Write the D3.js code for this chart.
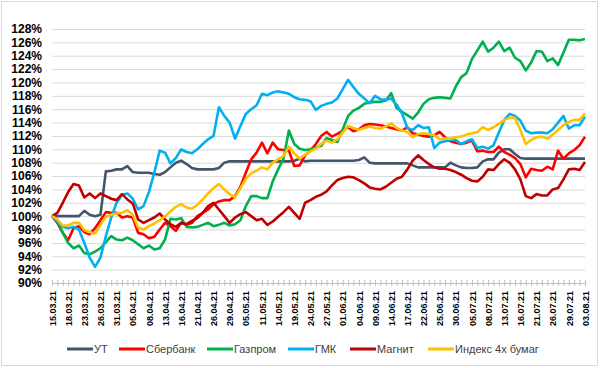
<!DOCTYPE html>
<html>
<head>
<meta charset="utf-8">
<script src="https://cdn.jsdelivr.net/npm/d3@7"></script>
<style>
  body { margin: 0; background: #fff; }
  .grid line { stroke: #d9d9d9; stroke-width: 1; }
  .grid path { display: none; }
  .y.axis text { font-family: "Liberation Sans", Arial, sans-serif; font-weight: bold; font-size: 12px; fill: #000; }
  .y.axis path, .y.axis line { display: none; }
  .x.axis text { font-family: "Liberation Sans", Arial, sans-serif; font-weight: bold; font-size: 9px; fill: #000; }
  .x.axis path { stroke: #bfbfbf; }
  .x.axis line { stroke: #bfbfbf; }
  .line { fill: none; stroke-width: 2.6; stroke-linejoin: round; }
  .legend text { font-family: "Liberation Sans", Arial, sans-serif; font-size: 11px; fill: #404040; }
</style>
</head>
<body>
<div id="chart"></div>
<script>

        // tick labels, one every 3 trading days
        var dateLabels = ["15.03.21", "18.03.21", "23.03.21", "26.03.21", "31.03.21", "05.04.21", "08.04.21",
            "13.04.21", "16.04.21", "21.04.21", "26.04.21", "29.04.21", "05.05.21", "11.05.21", "14.05.21",
            "19.05.21", "24.05.21", "27.05.21", "01.06.21", "04.06.21", "09.06.21", "14.06.21", "17.06.21",
            "22.06.21", "25.06.21", "30.06.21", "05.07.21", "08.07.21", "13.07.21", "16.07.21", "21.07.21",
            "26.07.21", "29.07.21", "03.08.21"];

        var seriesNames = ["УТ", "Сбербанк", "Газпром", "ГМК", "Магнит", "Индекс 4х бумаг"];

        var ut = [100, 100, 100, 100, 100, 100, 100.8, 100.2, 100, 100.2,
            106.7, 106.8, 107, 107, 107.5, 106.6, 106.5, 106.5, 106.5, 106.3,
            106.2, 106.6, 107.3, 108, 108.3, 107.8, 107.2, 107, 107, 107,
            107, 107.2, 108, 108.2, 108.2, 108.2, 108.2, 108.2, 108.2, 108.2,
            108.2, 108.2, 108.2, 108.2, 108.2, 108.3, 108.6, 108.2, 108.3, 108.3,
            108.3, 108.3, 108.3, 108.3, 108.3, 108.3, 108.3, 108.4, 108.8, 108,
            107.9, 107.9, 107.9, 107.9, 107.9, 107.9, 107.9, 107.6, 107.3, 107.3,
            107.3, 107.3, 107.3, 107.3, 108, 107.6, 107.3, 107.2, 107.2, 107.3,
            108.2, 108.5, 108.5, 109.5, 110, 110, 109.3, 108.7, 108.6, 108.6,
            108.6, 108.6, 108.6, 108.6, 108.6, 108.6, 108.6, 108.6, 108.6, 108.6];

        var sber = [100, 99, 97.5, 96.4, 98.2, 98.5, 97.6, 97.3, 98.2, 99.4,
            100.6, 100.5, 100.5, 99.8, 100, 99.8, 97.5, 97.3, 96.7, 96.9,
            98, 99, 98.5, 97.8, 99, 98.7, 99, 100, 100.5, 101,
            101.8, 102.2, 102.4, 102.4, 103, 104.4, 106.5, 108.5, 109.5, 111,
            109.4, 111, 110, 109.9, 109.8, 107.5, 107.6, 109.1, 109.8, 110.8,
            112, 112.6, 111.9, 112.3, 112.8, 113.3, 112.7, 113, 113.6, 113.8,
            113.7, 113.6, 113.4, 113.2, 113, 112.8, 113.3, 112.4, 112.2, 112,
            111.9, 112.1, 112.6, 111.8, 111.2, 111, 110.8, 111, 111.3, 109.7,
            109.8, 109.6, 109.6, 110.4, 109.6, 109.2, 108.7, 107.8, 105.8, 107.1,
            106.9, 106.8, 107.4, 107, 109.8, 108.6, 109.4, 109.9, 110.6, 111.9];

        var gazprom = [100, 99.3, 97.5, 96, 95.2, 95.6, 94.5, 94.3, 94.7, 95.2,
            96.1, 97, 96.5, 96.4, 96.8, 96.4, 95.8, 95.2, 95.6, 95,
            95.2, 96.5, 99.6, 99.5, 99.7, 98.4, 98.3, 98.4, 98.7, 99,
            98.5, 98.7, 99, 98.6, 98.8, 99.4, 101.5, 103, 103, 102.7,
            102.7, 105.2, 107, 108.6, 112.8, 110.8, 110.1, 109.9, 110, 110.3,
            110.5, 111.7, 111.4, 111.1, 113, 115, 115.8, 116.2, 116.8, 117,
            117.1, 117.1, 117.3, 118.4, 116.2, 115.6, 115.1, 114.6, 115.5, 116.8,
            117.5, 117.7, 117.8, 117.7, 117.6, 119.4, 120.8, 121.4, 123.5, 124.8,
            126.1, 124.6, 125.2, 126.1, 124.7, 125.2, 123.7, 123.2, 121.8, 123,
            124.7, 124.6, 123.2, 123.6, 122.6, 124.5, 126.4, 126.4, 126.3, 126.5];

        var gmk = [100, 99.2, 98.4, 98.2, 98.4, 98, 96, 93.8, 92.4, 93.8,
            97, 99.8, 102, 103.2, 103.4, 102.6, 101, 101.5, 103.6, 106.5,
            109.8, 109.5, 107.9, 108.7, 110, 109.6, 109.4, 110, 110.8, 111.5,
            112, 116.3, 115, 114, 111.6, 113.5, 115.3, 116, 116.6, 118.3,
            118.1, 118.5, 118.7, 118.5, 118.3, 117.8, 117.5, 117.4, 117.2, 115.9,
            116.5, 116.8, 117, 117.6, 119, 120.4, 119.3, 118.3, 117.6, 116.9,
            118, 117.5, 117.4, 117.6, 116.7, 115.4, 113.2, 112.9, 113.6, 113.2,
            113.3, 110.2, 111, 111.2, 111.4, 111.4, 110.8, 111.2, 111.5, 110.2,
            110.4, 110.1, 110.6, 112.5, 114.4, 115.3, 115, 114.3, 112.8, 112.4,
            112.5, 112.5, 112.4, 113, 114, 115, 113.1, 113.6, 113.6, 114.9];

        var magnit = [100, 100.5, 102, 103.6, 104.8, 104.6, 102.8, 103.4, 102.7, 103.4,
            103, 102.6, 102.4, 103.3, 102.5, 101.9, 99.5, 99, 99.4, 99.8,
            100.4, 99.5, 98.8, 98.4, 99, 98.8, 99.3, 99.7, 100.5, 101.5,
            102, 101, 100, 99, 99.8, 100.3, 100.6, 100, 99.4, 99.6,
            98.7, 99.2, 99.9, 100.6, 101.4, 100.5, 99.6, 102, 102.4, 102.9,
            103.2, 103.7, 104.6, 105.4, 105.7, 105.9, 105.8, 105.4, 104.9, 104.3,
            104.1, 104, 104.4, 105, 105.6, 105.9, 107, 108.3, 109.1, 108.4,
            107.8, 107.3, 107.1, 107.1, 106.9, 106.6, 106.2, 105.7, 105.3, 105.2,
            105.9, 107, 106.9, 107.8, 108.5, 108, 107, 105.5, 103, 102.7,
            103.3, 103.1, 103.1, 104, 104.2, 105.5, 107, 107.1, 106.9, 108.1];

        var index4 = [100, 99.5, 98.6, 98.6, 99, 99, 97.9, 97.6, 97.4, 98.7,
            99.9, 100.2, 100.4, 100.5, 100.9, 100.2, 98.3, 98, 98.5, 98.9,
            99.4, 100, 100.7, 101.4, 101.8, 101.3, 101.1, 101.7, 102.5, 103.4,
            104.2, 104.8, 104, 103.3, 102.8, 104.2, 105.6, 106.4, 106.8, 107.3,
            107, 108, 108.5, 109, 110.4, 109.4, 108.6, 109.2, 109.7, 110.1,
            110.8, 111.3, 111, 111.5, 112.5, 113.5, 113.2, 112.9, 113.2, 113.4,
            113.2, 113.1, 113.4, 113.9, 113.2, 112.8, 112.6, 111.8, 112.3, 112.4,
            112.3, 112.1, 111.5, 111.6, 111.6, 111.8, 111.9, 112.2, 112.4, 112.6,
            113.3, 112.9, 113.3, 113.8, 114.4, 114.7, 114.7, 112.9, 110.8, 111.4,
            111.8, 111.9, 111.6, 112.2, 112.9, 113.6, 114.1, 114.4, 114.4, 115.4];

        var colors = ["#44546A", "#FF0000", "#00B050", "#00B0F0", "#C00000", "#FFC000"];

        var yTicks = d3.range(90, 129, 2);

        var fullwidth = 600;
        var fullheight = 368;
        var margin = {top: 29, right: 15, bottom: 85, left: 52};

        var width = fullwidth - margin.left - margin.right;
        var height = fullheight - margin.top - margin.bottom;

        var root = d3.select("#chart")
                    .append("svg")
                    .attr("width", fullwidth)
                    .attr("height", fullheight);

        // outer frame
        root.append("rect")
            .attr("x", 1.5)
            .attr("y", 1.5)
            .attr("width", 596)
            .attr("height", 364)
            .attr("fill", "#fff")
            .attr("stroke", "#d9d9d9");

        var svg = root.append("g")
                    .attr("transform", "translate(" + margin.left + "," + margin.top + ")");

        var nPoints = ut.length;

        var xScale = d3.scaleLinear()
                        .domain([0, nPoints - 1])
                        .range([0, width]);

        var yScale = d3.scaleLinear()
                        .domain([90, 128])
                        .range([height, 0]);

        //gridlines
        svg.append("g")
            .attr("class", "grid")
            .call(d3.axisLeft(yScale)
                .tickValues(yTicks.slice(1))
                .tickSize(-width)
                .tickFormat(""));

        var yAxis = d3.axisLeft(yScale)
                        .tickValues(yTicks)
                        .tickSize(0)
                        .tickPadding(10)
                        .tickFormat(function(d) {
                            return d + "%";
                        });

        svg.append("g")
            .attr("class", "y axis")
            .call(yAxis);

        // small tick marks on every trading day
        svg.append("g")
            .attr("class", "x axis")
            .attr("transform", "translate(0," + height + ")")
            .call(d3.axisBottom(xScale)
                .tickValues(d3.range(0, nPoints))
                .tickSize(3)
                .tickFormat(""))
            .selectAll(".tick line")
            .attr("y1", -3);

        var xAxis = d3.axisBottom(xScale)
                        .tickValues(d3.range(0, nPoints, 3))
                        .tickSize(0)
                        .tickFormat(function(d) {
                            return dateLabels[d / 3];
                        });

        svg.append("g")
            .attr("class", "x axis")
            .attr("transform", "translate(0," + height + ")")
            .call(xAxis)
            .call(function(g) { g.select(".domain").remove(); })
            .selectAll("text")
            .attr("transform", "rotate(-90)")
            .attr("text-anchor", "end")
            .attr("x", -8)
            .attr("y", 0)
            .attr("dy", "0.35em");

        var dataset = [ut, sber, gazprom, gmk, magnit, index4].map(function(vals, i) {
            return {name: seriesNames[i], color: colors[i], values: vals};
        });

        var line = d3.line()
            .x(function(d, i) { return xScale(i); })
            .y(function(d) { return yScale(d); });

        svg.selectAll(".line")
            .data(dataset)
            .enter()
            .append("path")
            .attr("class", "line")
            .attr("stroke", function(d) { return d.color; })
            .attr("d", function(d) { return line(d.values); });

        // legend
        var legendX = [67, 119, 207, 288, 350, 428];

        var legend = root.append("g")
            .attr("class", "legend")
            .attr("transform", "translate(0,349)");

        var items = legend.selectAll("g")
            .data(dataset)
            .enter()
            .append("g")
            .attr("transform", function(d, i) { return "translate(" + legendX[i] + ",0)"; });

        items.append("line")
            .attr("x1", 0)
            .attr("x2", 26)
            .attr("stroke", function(d) { return d.color; })
            .attr("stroke-width", 3);

        items.append("text")
            .attr("x", 27)
            .attr("dy", "0.35em")
            .text(function(d) { return d.name; });

</script>
</body>
</html>
